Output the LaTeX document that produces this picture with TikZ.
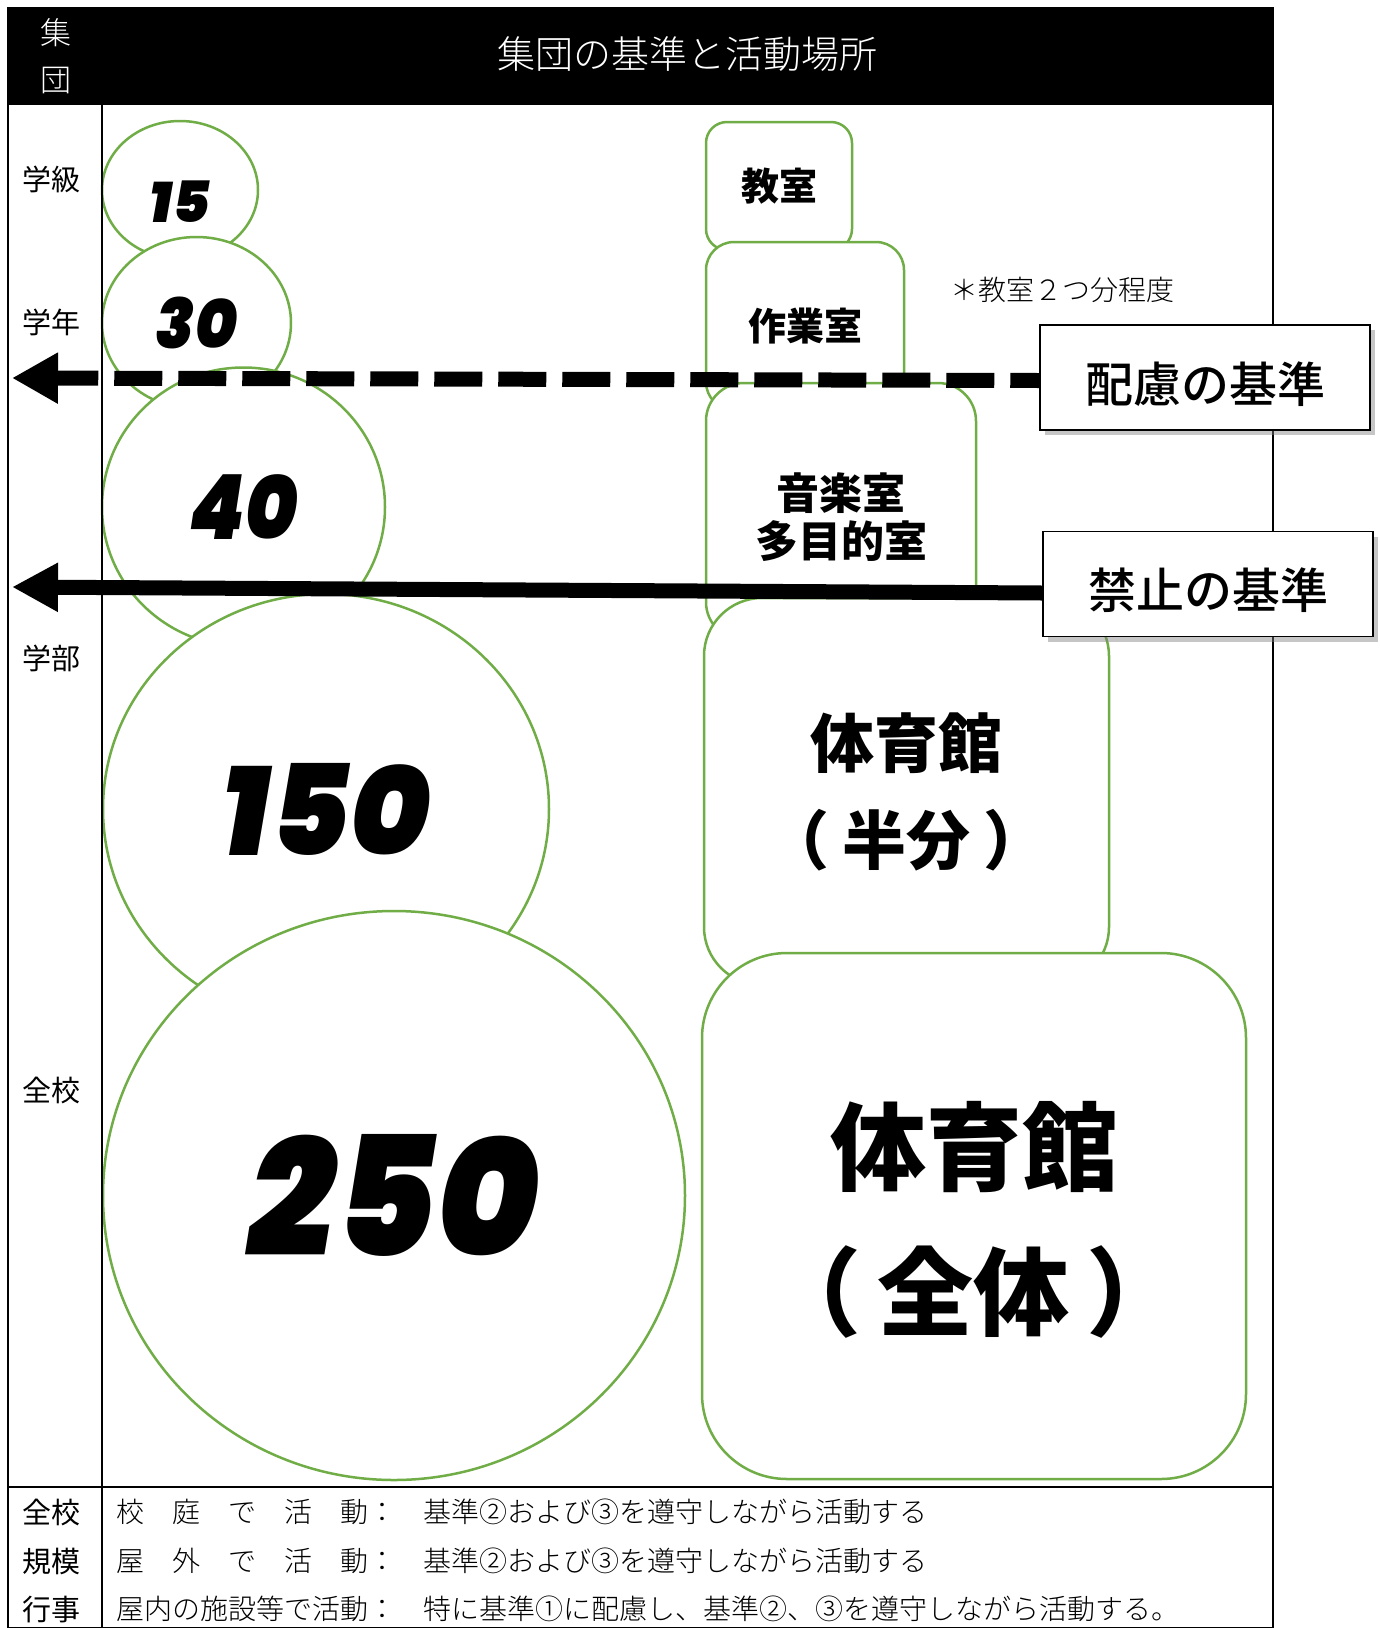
\documentclass[tikz,border=0pt]{standalone}
\usepackage{fontspec}
\setmainfont{Noto Sans CJK JP}
\newfontfamily\jplight{Noto Sans CJK JP Light}
\newfontfamily\jpmed{Noto Sans CJK JP Medium}
\newfontfamily\jpblack{Noto Sans CJK JP Black}
\newfontfamily\numfont{Poppins Black Italic}
\usepackage{tikz}
\usetikzlibrary{shapes.geometric}
\usetikzlibrary{arrows.meta}
\usetikzlibrary{shadows}
\definecolor{ringgreen}{HTML}{70AD47}
\newcommand{\fs}[1]{\fontsize{#1}{#1}\selectfont}
\newcommand{\sink}[2]{\raisebox{-#1}[\height][\depth]{#2}}
\newcommand{\narrow}[1]{\scalebox{0.92}[1]{#1}}

\begin{document}
\begin{tikzpicture}[x=1pt, y=-1pt,
  ring/.style={ellipse, draw=ringgreen, line width=2.5pt, fill=white, inner sep=0pt, outer sep=0pt},
  room/.style={rectangle, draw=ringgreen, line width=2.5pt, fill=white, inner sep=0pt, outer sep=0pt, align=center},
  kijun/.style={draw, line width=1.5pt, fill=white, minimum width=330pt, minimum height=105pt, inner sep=0pt,
    font=\jpmed\fs{48}, drop shadow={shadow xshift=5pt, shadow yshift=-5pt, opacity=.45}},
  side/.style={font=\fs{29}},
  rule/.style={font=\jplight\fs{28}, anchor=west}]

\useasboundingbox (0,0) rectangle (1379,1628);

% frame and header
\fill (8,8) rectangle (1273,105);
\draw[line width=2pt] (8,8) rectangle (1273,1628);
\node[white, font=\jplight\fs{31}] (hshu) at (56,33) {集};
\node[white, font=\jplight\fs{31}] (hdan) at (56,80) {団};
\node[white, font=\jplight\fs{38}] (title) at (687,54) {集団の基準と活動場所};

% group sizes
\node[ring, minimum width=156pt, minimum height=138pt, font=\numfont\fs{57}] (c15) at (180,190) {\sink{12pt}{15}};
\node[ring, minimum width=189pt, minimum height=172pt, font=\numfont\fs{69}] (c30) at (196.5,323) {\narrow{30}};
\node[ring, minimum width=283pt, minimum height=279pt, font=\numfont\fs{90}] (c40) at (243.5,507) {\scalebox{0.88}[1]{40}};
\node[ring, minimum width=446pt, minimum height=430pt, font=\numfont\fs{126}] (c150) at (326,809) {\scalebox{0.96}[1]{150}};
\node[ring, minimum width=582pt, minimum height=569pt, font=\numfont\fs{167}] (c250) at (394,1195.5) {\narrow{250}};

% places
\node[room, minimum width=146pt, minimum height=128pt, rounded corners=21pt, font=\jpblack\fs{38}] (kyo) at (779,186) {教室};
\node[room, minimum width=198pt, minimum height=168pt, rounded corners=28pt, font=\jpblack\fs{38}] (sagyo) at (805,326) {作業室};
\node[room, minimum width=270pt, minimum height=257pt, rounded corners=38pt, font=\jpblack\fontsize{43}{48}\selectfont] (ongaku) at (841,511.5) {\rule{0pt}{48pt}音楽室\\多目的室};
\node[room, minimum width=405pt, minimum height=387pt, rounded corners=58pt, font=\jpblack\fontsize{64}{97}\selectfont] (hangym) at (906.5,791.5) {体育館\\（\kern.2em 半分\kern.2em ）};
\node[room, minimum width=544pt, minimum height=526pt, rounded corners=85pt, font=\jpblack\fontsize{96}{145}\selectfont] (zengym) at (974,1216) {\rule{0pt}{90pt}体育館\\（\kern.17em 全体\kern.17em ）};
\node[font=\jplight\fs{28}] (note) at (1062,290) {＊教室２つ分程度};

% columns
\draw[line width=2pt] (102,105) -- (102,1628);
\draw[line width=2pt] (8,1487) -- (1273,1487);
\node[side] (gkyu) at (52,179) {学級};
\node[side] (gnen) at (52,322) {学年};
\node[side] (gbu) at (52,658) {学部};
\node[side] (gzen) at (52,1090) {全校};

% criteria
\node[kijun] (hairyo) at (1205,377.5) {\sink{7pt}{配慮の基準}};
\node[kijun] (kinshi) at (1208,584) {\sink{6pt}{禁止の基準}};
\coordinate (hairyotip) at (12,378);
\coordinate (kinshitip) at (12,587);
\draw[line width=15pt, dash pattern=on 48pt off 16pt, dash phase=19pt, -{Triangle[length=46pt,width=48pt]}]
  ([yshift=-3pt]hairyo.west) -- (hairyotip);
\draw[line width=15pt, -{Triangle[length=46pt,width=46pt]}] ([yshift=-9pt]kinshi.west) -- (kinshitip);

% events
\node[side] (ezen) at (52,1512) {全校};
\node[side] (eki) at (52,1561) {規模};
\node[side] (egyo) at (52,1609) {行事};
\node[rule] (r1a) at (113,1512) {校　庭　で　活　動：};
\node[rule] (r2a) at (113,1561) {屋　外　で　活　動：};
\node[rule] (r3a) at (113,1609) {屋内の施設等で活動：};
\node[rule] (r1b) at (420,1512) {基準②および③を遵守しながら活動する};
\node[rule] (r2b) at (420,1561) {基準②および③を遵守しながら活動する};
\node[rule] (r3b) at (420,1609) {特に基準①に配慮し、基準②、③を遵守しながら活動する。};

\end{tikzpicture}
\end{document}
